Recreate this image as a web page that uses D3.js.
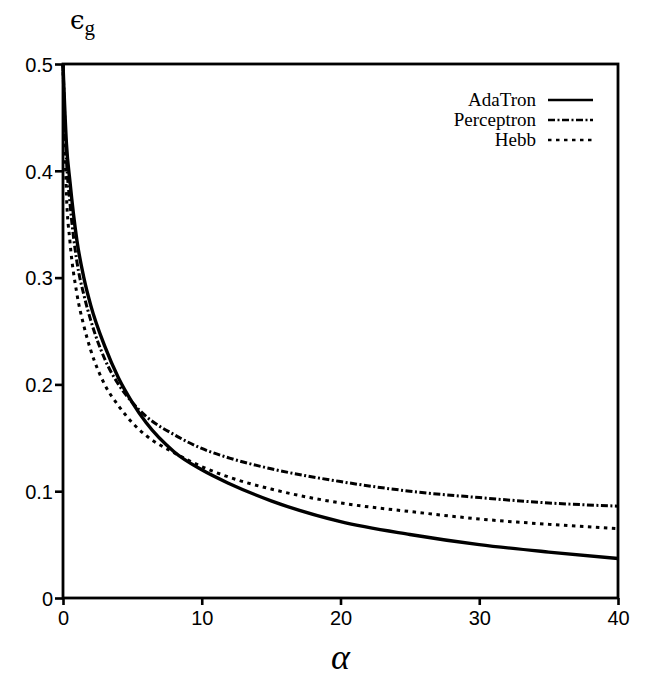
<!DOCTYPE html>
<html>
<head>
<meta charset="utf-8">
<script src="https://cdn.jsdelivr.net/npm/d3@7"></script>
<style>
  body { margin: 0; background: #fff; }
  svg { display: block; }
</style>
</head>
<body>
<svg id="chart"></svg>
<script>
// values
const alphas = [0, 0.25, 0.5, 1, 1.5, 2, 3, 4, 5, 6, 8, 10, 12, 15, 20, 25, 30, 35, 40];
const adatron = [0.5, 0.425, 0.39, 0.335, 0.3, 0.274, 0.236, 0.206, 0.183, 0.164, 0.137, 0.12, 0.107, 0.091, 0.0715, 0.0595, 0.05, 0.043, 0.037];
const perceptron = [0.5, 0.41, 0.37, 0.315, 0.284, 0.26, 0.224, 0.2, 0.183, 0.17, 0.153, 0.14, 0.131, 0.121, 0.109, 0.1, 0.094, 0.089, 0.086];
const hebb = [0.5, 0.377, 0.334, 0.285, 0.255, 0.232, 0.2, 0.18, 0.164, 0.152, 0.136, 0.123, 0.113, 0.102, 0.089, 0.081, 0.074, 0.069, 0.065];
const xTicks = [0, 10, 20, 30, 40];
const yTicks = [0, 0.1, 0.2, 0.3, 0.4, 0.5];

const series = [
    { name: "AdaTron", values: adatron, dash: null },
    { name: "Perceptron", values: perceptron, dash: "7,2.5,2,2.5" },
    { name: "Hebb", values: hebb, dash: "3.5,4.5" },
];

const width = 648;
const height = 681;
const margin = { top: 64, right: 30, bottom: 83, left: 63 };

const svg = d3.select("#chart")
    .attr("width", width)
    .attr("height", height);

const x = d3.scaleLinear()
    .domain([0, 40])
    .range([margin.left, width - margin.right]);

const y = d3.scaleLinear()
    .domain([0, 0.5])
    .range([height - margin.bottom, margin.top]);

const tickFmtY = d => d === 0 ? "0" : d3.format(".1f")(d);

// axes
const xAxis = svg.append("g")
    .attr("transform", `translate(0,${y(0)})`)
    .call(d3.axisBottom(x).tickValues(xTicks).tickSize(7).tickPadding(6).tickSizeOuter(0));

const yAxis = svg.append("g")
    .attr("transform", `translate(${x(0)},0)`)
    .call(d3.axisLeft(y).tickValues(yTicks).tickFormat(tickFmtY).tickSize(8).tickPadding(2).tickSizeOuter(0));

[xAxis, yAxis].forEach(g => {
    g.select(".domain").remove();
    g.selectAll(".tick line").attr("stroke", "#000").attr("stroke-width", 2.6);
    g.selectAll(".tick text")
        .attr("fill", "#000")
        .style("font-family", "'Liberation Sans', Arial, sans-serif")
        .style("font-size", "20px");
});
yAxis.selectAll(".tick text").attr("dy", "0.36em");

// frame
svg.append("rect")
    .attr("x", x(0))
    .attr("y", y(0.5))
    .attr("width", x(40) - x(0))
    .attr("height", y(0) - y(0.5))
    .attr("fill", "none")
    .attr("stroke", "#000")
    .attr("stroke-width", 2.8);

// curves
const line = d3.line()
    .x((d, i) => x(alphas[i]))
    .y(d => y(d))
    .curve(d3.curveMonotoneX);

svg.append("g")
    .selectAll("path")
    .data(series)
    .join("path")
    .attr("d", d => line(d.values))
    .attr("fill", "none")
    .attr("stroke", "#000")
    .attr("stroke-width", d => d.dash ? 3 : 3.4)
    .attr("stroke-dasharray", d => d.dash);

// legend
const legend = svg.append("g")
    .selectAll("g")
    .data(series)
    .join("g")
    .attr("transform", (d, i) => `translate(0,${100 + i * 20})`);

legend.append("text")
    .attr("x", 536)
    .attr("y", 6)
    .attr("text-anchor", "end")
    .style("font-family", "'Liberation Serif', 'Times New Roman', serif")
    .style("font-size", "19px")
    .text(d => d.name);

legend.append("line")
    .attr("x1", 548)
    .attr("x2", 593)
    .attr("y1", 0)
    .attr("y2", 0)
    .attr("stroke", "#000")
    .attr("stroke-width", d => d.dash ? 2.5 : 2.4)
    .attr("stroke-dasharray", d => d.dash);

// axis titles
const eps = svg.append("text")
    .attr("x", 70)
    .attr("y", 29)
    .style("font-family", "'DejaVu Serif', 'Liberation Serif', serif")
    .style("font-size", "26px");
eps.append("tspan").text("\u03f5");
eps.append("tspan")
    .attr("dy", 6)
    .style("font-family", "'Liberation Serif', serif")
    .style("font-size", "21px")
    .text("g");

svg.append("text")
    .attr("x", (x(0) + x(40)) / 2)
    .attr("y", 669)
    .attr("text-anchor", "middle")
    .style("font-family", "'Liberation Serif', 'Times New Roman', serif")
    .style("font-style", "italic")
    .style("font-size", "36px")
    .text("\u03b1");
</script>
</body>
</html>
